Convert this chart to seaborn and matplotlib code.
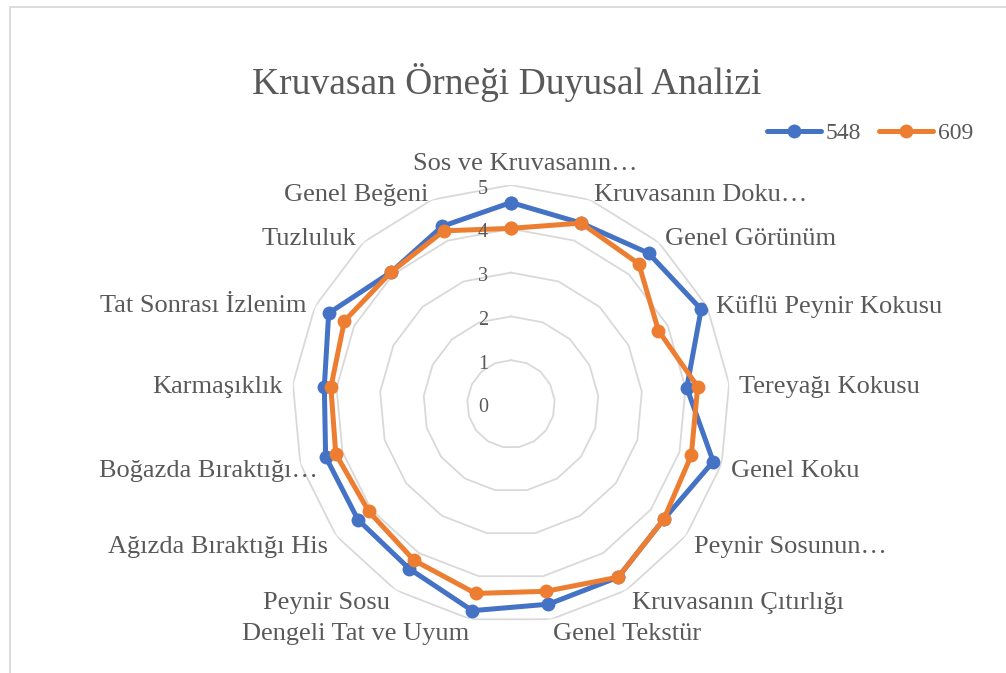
import numpy as np
import pandas as pd
import matplotlib
matplotlib.use("Agg")
import matplotlib.pyplot as plt
from matplotlib.lines import Line2D
from matplotlib.patches import Rectangle
import seaborn as sns

# ---------------- data ----------------
categories = [
    "Sos ve Kruvasanın…", "Kruvasanın Doku…", "Genel Görünüm",
    "Küflü Peynir Kokusu", "Tereyağı Kokusu", "Genel Koku",
    "Peynir Sosunun…", "Kruvasanın Çıtırlığı", "Genel Tekstür",
    "Dengeli Tat ve Uyum", "Peynir Sosu", "Ağızda Bıraktığı His",
    "Boğazda Bıraktığı…", "Karmaşıklık", "Tat Sonrası İzlenim",
    "Tuzluluk", "Genel Beğeni",
]
series_names = ["548", "609"]
values_548 = [4.60, 4.43, 4.66, 4.85, 4.03, 4.80, 4.37, 4.65, 4.65,
              4.80, 4.42, 4.38, 4.40, 4.28, 4.65, 4.07, 4.35]
values_609 = [4.01, 4.43, 4.33, 3.76, 4.28, 4.28, 4.37, 4.65, 4.35,
              4.40, 4.20, 4.07, 4.16, 4.13, 4.25, 4.07, 4.24]
tick_values = [0, 1, 2, 3, 4, 5]
title_text = "Kruvasan Örneği Duyusal Analizi"

# ---------------- style ----------------
sns.set_theme(style="white")
plt.rcParams["font.family"] = ["Liberation Serif", "DejaVu Serif"]
TEXT = "#595959"
GRID = "#D9D9D9"
BLUE = "#4472C4"
ORANGE = "#ED7D31"

W, H = 1006, 673
fig = plt.figure(figsize=(W / 100, H / 100), dpi=100)
fig.patch.set_facecolor("white")

# chart frame (Excel chart area border, cropped at right/bottom)
fig.patches.append(Rectangle((10 / W, -0.05), 1.2, (H - 7.5) / H + 0.05,
                             transform=fig.transFigure, fill=False,
                             edgecolor=GRID, linewidth=1.3))

cx, cy, R = 511, 404, 219
ax = fig.add_axes([(cx - R) / W, (H - cy - R) / H, 2 * R / W, 2 * R / H],
                  projection="polar")
ax.set_theta_zero_location("N")
ax.set_theta_direction(-1)
ax.set_facecolor("none")

n = len(categories)
theta = np.arange(n + 1) * 2 * np.pi / n  # closed loop

# polygon gridlines
for r in tick_values[1:]:
    ax.plot(theta, [r] * (n + 1), color=GRID, linewidth=1.3, zorder=1)

# data
rows = []
for name, vals in zip(series_names, [values_548, values_609]):
    closed = list(vals) + [vals[0]]
    for t, v in zip(theta, closed):
        rows.append({"theta": t, "value": v, "series": name})
df = pd.DataFrame(rows)

sns.lineplot(data=df, x="theta", y="value", hue="series",
             palette=[BLUE, ORANGE], sort=False, estimator=None,
             marker="o", markersize=10, markeredgewidth=0,
             linewidth=3.6, legend=False, ax=ax, zorder=3)

ax.set_ylim(0, 5)
ax.grid(False)
ax.set_xticks([])
ax.set_yticks([])
ax.set_xlabel("")
ax.set_ylabel("")
ax.spines["polar"].set_visible(False)

# radial tick labels
for r in tick_values:
    ax.annotate(str(r), xy=(0, r), xytext=(-28, -4), textcoords="offset pixels",
                ha="center", va="center", fontsize=14.5, color=TEXT,
                annotation_clip=False)

# category labels
extra = {0: (14, 4.5), 12: (27, 0)}
d = 10
for k, lab in enumerate(categories):
    a = theta[k]
    s, c = np.sin(a), np.cos(a)
    if s > 0.1:
        ha = "left"
    elif s < -0.1:
        ha = "right"
    else:
        ha = "center"
    va = "bottom" if (abs(s) <= 0.1 and c > 0) else "center"
    ex, ey = extra.get(k, (0, 0))
    ax.annotate(lab, xy=(a, 5), xytext=(d * s + ex, d * c + ey - 4.5),
                textcoords="offset pixels", ha=ha, va=va,
                fontsize=19, color=TEXT, annotation_clip=False)

# title
fig.text(507 / W, 1 - 94 / H, title_text, ha="center", va="baseline",
         fontsize=27, color=TEXT)

# legend
handles = [Line2D([], [], color=col, linewidth=3.6, marker="o",
                  markersize=10, markeredgewidth=0)
           for col in (BLUE, ORANGE)]
fig.legend(handles, series_names, loc="center left",
           bbox_to_anchor=(767 / W, 1 - 133 / H), ncol=2, frameon=False,
           fontsize=17, labelcolor=TEXT, handlelength=2.3,
           handletextpad=0.2, columnspacing=0.75, borderpad=0,
           borderaxespad=0)

fig.savefig("out.png", dpi=100, facecolor="white")
